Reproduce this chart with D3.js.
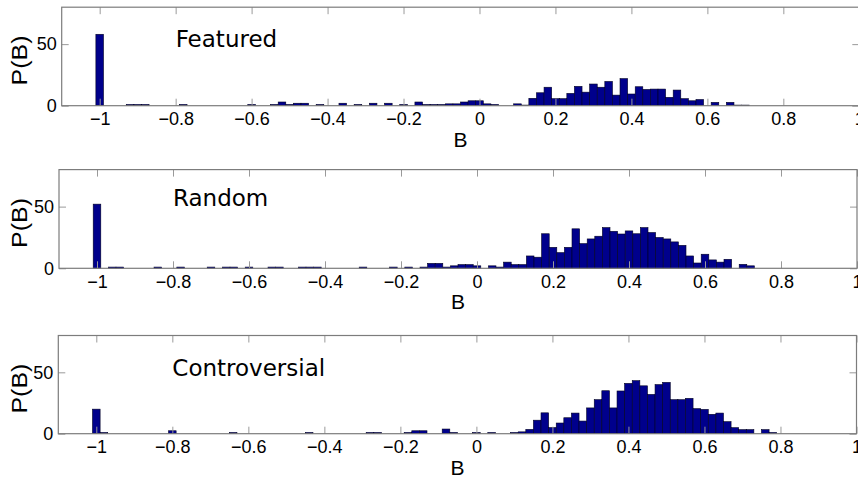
<!DOCTYPE html>
<html><head><meta charset="utf-8">
<script src="https://cdn.jsdelivr.net/npm/d3@7"></script>
<style>body{margin:0;background:#fff} svg{display:block}</style>
</head><body>
<script>
// ---------- DATA ----------
const titles = ["Featured", "Random", "Controversial"];
// bins of width 0.02, centred at -1, -0.98, ..., 1 (101 bins)
const binWidth = 0.02;
const binCenters = d3.range(101).map(i => +(-1 + i * binWidth).toFixed(2));

const featured = [
  58,0,0,0,1,1,1,0,0,0,
  0,1,0,0,0,0,0,0,0,0,
  1,0,0,1,3,1,2,2,0,1,
  0,0,2,0,1,0,2,0,2,0,
  1,0,3,1,1,1,1.5,1.5,3,4,
  4,1.5,1,0,0,1.5,0.5,6,10.5,15,
  5.7,5.7,10,15.7,11,17.6,15,19.7,8.6,22,
  9.5,15.4,13.2,13.5,13.5,6.8,12.7,5.7,4,5,
  0,2.7,0,2.7,0.5,0.5,0,0,0,0,
  0,0,0,0,0,0,0,0,0,0,
  0
];
const random = [
  52,0,1,1,0,0,0,0,1,0,
  0,1,0,0,0,1,0,1,1,0,
  1,0,0,1,1,0,0,1,1,1,
  0,0,0,0,0,1,0,0,0,1,
  0,1,0,1,4,4,1,2,3,3,
  2,0,2,1,5,3,3,10,9,28,
  17,12.7,17,32,20,23.8,26,33,30,27.8,
  30.3,28,33,29,25,23.8,21.4,18.6,10,4.3,
  11.4,6.8,5,7.3,0,3.2,2,0,0,0,
  0,0,0,0,0,0,0,0,0,0,
  0
];
const controversial = [
  20,1,0,0,0,0,0,0,0,0,
  2.4,0,0,0,0,0,0,0,1,0,
  0,0,0,0,0,0,0,0,1,0,
  0,0,0,0,0,0,1,1,0,0,
  0,1,2.4,2.4,0,0,3.8,1,0,0,
  1,0,1,0,0,1,1.5,3.5,11,17,
  5,8.7,13,16.8,10.3,21,27.7,35,21,34.8,
  41,43.2,39,32,40,41.8,27.7,27.7,28.8,20.4,
  19.8,15.8,16.8,9.8,4.9,3.3,3.3,0,3.3,1,
  0,0,0,0,0,0,0,0,0,0,
  0
];
const seriesList = [featured, random, controversial];

const xTicks = [-1, -0.8, -0.6, -0.4, -0.2, 0, 0.2, 0.4, 0.6, 0.8, 1];
const xTickLabels = ["\u22121", "\u22120.8", "\u22120.6", "\u22120.4", "\u22120.2", "0", "0.2", "0.4", "0.6", "0.8", "1"];
const yTicks = [0, 50];
const yTickLabels = ["0", "50"];
const xDomain = [-1.1, 1];
const yDomain = [0, 80];
const xLabel = "B";
const yLabel = "P(B)";

// ---------- LAYOUT ----------
const W = 858, H = 479;
const panels = [
  {l: 61.7, r: 859.3, t: 7.2,   b: 105.7, titleY: 47},
  {l: 59,   r: 857,   t: 169.6, b: 268.3, titleY: 206},
  {l: 58.3, r: 856.5, t: 335.5, b: 433.7, titleY: 376}
];
const frameColor = "#7c7c7c";
const tickColor = "#9a9a9a";
const barFill = "#00008c";
const barStroke = "#000022";
const tickFont = "Liberation Sans, Arial, Helvetica, sans-serif";

const svg = d3.select("body").append("svg")
  .attr("width", W).attr("height", H)
  .style("background", "#fff");

panels.forEach((p, pi) => {
  const data = seriesList[pi];
  const x = d3.scaleLinear().domain(xDomain).range([p.l, p.r]);
  const y = d3.scaleLinear().domain(yDomain).range([p.b, p.t]);
  const g = svg.append("g");

  // bars
  const bw = x(binWidth) - x(0);
  g.append("g").selectAll("rect")
    .data(binCenters.map((c, i) => ({c, v: data[i]})).filter(d => d.v > 0))
    .join("rect")
    .attr("x", d => x(d.c - binWidth / 2))
    .attr("width", bw)
    .attr("y", d => y(d.v))
    .attr("height", d => y(0) - y(d.v))
    .attr("fill", barFill)
    .attr("stroke", barStroke)
    .attr("stroke-width", 0.6);

  // axes (ticks inward)
  const xb = d3.axisBottom(x).tickValues(xTicks)
    .tickFormat((d, i) => xTickLabels[i]).tickSizeInner(-7).tickSizeOuter(0).tickPadding(7);
  const xt = d3.axisTop(x).tickValues(xTicks).tickFormat("").tickSizeInner(-7).tickSizeOuter(0);
  const yl = d3.axisLeft(y).tickValues(yTicks)
    .tickFormat((d, i) => yTickLabels[i]).tickSizeInner(-7).tickSizeOuter(0).tickPadding(5);
  const yr = d3.axisRight(y).tickValues(yTicks).tickFormat("").tickSizeInner(-7).tickSizeOuter(0);

  const gxb = g.append("g").attr("transform", `translate(0,${p.b})`).call(xb);
  const gxt = g.append("g").attr("transform", `translate(0,${p.t})`).call(xt);
  const gyl = g.append("g").attr("transform", `translate(${p.l},0)`).call(yl);
  const gyr = g.append("g").attr("transform", `translate(${p.r},0)`).call(yr);
  [gxb, gxt, gyl, gyr].forEach(a => {
    a.select(".domain").remove();
    a.selectAll(".tick line").attr("stroke", tickColor).attr("stroke-width", 1);
    a.selectAll(".tick text").attr("fill", "#000")
      .style("font-family", tickFont).style("font-size", "18px");
  });

  // frame
  g.append("rect")
    .attr("x", p.l).attr("y", p.t)
    .attr("width", p.r - p.l).attr("height", p.b - p.t)
    .attr("fill", "none").attr("stroke", frameColor).attr("stroke-width", 1.2);

  // title inside panel
  g.append("text")
    .attr("x", x(-0.8)).attr("y", p.titleY)
    .style("font-family", "DejaVu Sans, sans-serif").style("font-size", "23px")
    .attr("fill", "#000")
    .text(titles[pi]);

  // x label
  g.append("text")
    .attr("x", (p.l + p.r) / 2).attr("y", p.b + 41)
    .attr("text-anchor", "middle")
    .style("font-family", tickFont).style("font-size", "21px")
    .text(xLabel);

  // y label
  g.append("text")
    .attr("transform", `translate(27,${(p.t + p.b) / 2 + 4}) rotate(-90)`)
    .attr("text-anchor", "middle")
    .attr("textLength", 50).attr("lengthAdjust", "spacingAndGlyphs")
    .style("font-family", tickFont).style("font-size", "22px")
    .text(yLabel);
});
</script>
</body></html>
